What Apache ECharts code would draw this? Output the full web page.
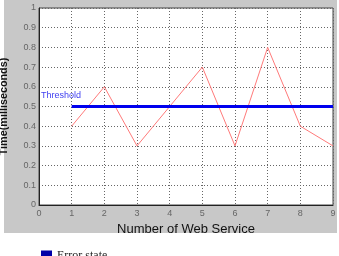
<!DOCTYPE html>
<html>
<head>
<meta charset="utf-8">
<script src="https://cdn.jsdelivr.net/npm/echarts@6/dist/echarts.min.js"></script>
<style>
  html, body { margin: 0; padding: 0; background: #fff; }
  #chart { width: 339px; height: 256px; }
</style>
</head>
<body>
<div id="chart"></div>
<script>
// data
var services = [1, 2, 3, 4, 5, 6, 7, 8, 9];
var times = [0.4, 0.6, 0.3, 0.5, 0.7, 0.3, 0.8, 0.4, 0.3];
var thresholdRange = [1, 9];
var thresholdValue = 0.5;

var chart = echarts.init(document.getElementById('chart'));

var timeData = services.map(function (s, i) { return [s, times[i]]; });
var thresholdData = thresholdRange.map(function (s) { return [s, thresholdValue]; });

chart.setOption({
  animation: false,
  backgroundColor: '#fff',
  graphic: [
    {
      type: 'rect', z: -10,
      shape: { x: 4, y: 0, width: 333, height: 233 },
      style: { fill: '#c8c8c8' }
    },
    {
      type: 'text', left: 41, top: 91, z: 10,
      style: { text: 'Threshold', fill: '#4040f0', font: '9px Arial' }
    }
  ],
  grid: {
    left: 39, top: 8, width: 294, height: 197,
    outerBoundsMode: 'none',
    show: true, backgroundColor: '#fff',
    borderColor: '#444', borderWidth: 1
  },
  legend: {
    data: ['Error state'],
    left: 36, top: 245,
    icon: 'rect', itemWidth: 11, itemHeight: 11, itemGap: 5,
    textStyle: { fontFamily: 'Liberation Serif', fontSize: 12, color: '#222' }
  },
  xAxis: {
    type: 'value', min: 0, max: 9, interval: 1,
    name: 'Number of Web Service', nameLocation: 'middle', nameGap: 10,
    nameTextStyle: { fontFamily: 'Arial', fontSize: 13, color: '#111' },
    axisLine: { show: true, onZero: false, lineStyle: { color: '#222', width: 1 } },
    axisTick: { show: false },
    axisLabel: { color: '#666', fontSize: 9, fontFamily: 'Arial', margin: 4 },
    splitLine: { show: true, lineStyle: { color: '#666', type: [1, 2], width: 1 } }
  },
  yAxis: {
    type: 'value', min: 0, max: 1, interval: 0.1,
    name: 'Time(milliseconds)', nameLocation: 'middle', nameGap: 29,
    nameMoveOverlap: false,
    nameTextStyle: { fontFamily: 'Arial', fontSize: 10.8, fontWeight: 'bold', color: '#111' },
    axisLine: { show: true, lineStyle: { color: '#222', width: 1 } },
    axisTick: { show: false },
    axisLabel: {
      color: '#666', fontSize: 9, fontFamily: 'Arial', margin: 3,
      formatter: function (v) { return v === 0 ? '0' : (v === 1 ? '1' : v.toFixed(1)); }
    },
    splitLine: { show: true, lineStyle: { color: '#666', type: [1, 2], width: 1 } }
  },
  series: [
    {
      name: 'Time', type: 'line', data: timeData,
      symbol: 'none', z: 3,
      lineStyle: { color: '#ff7a7a', width: 1 }
    },
    {
      name: 'Threshold', type: 'line', data: thresholdData,
      symbol: 'none', z: 4,
      lineStyle: { color: '#0000ee', width: 3 }
    },
    {
      name: 'Error state', type: 'line', data: [],
      itemStyle: { color: '#0000a8' }
    }
  ]
});
</script>
</body>
</html>
